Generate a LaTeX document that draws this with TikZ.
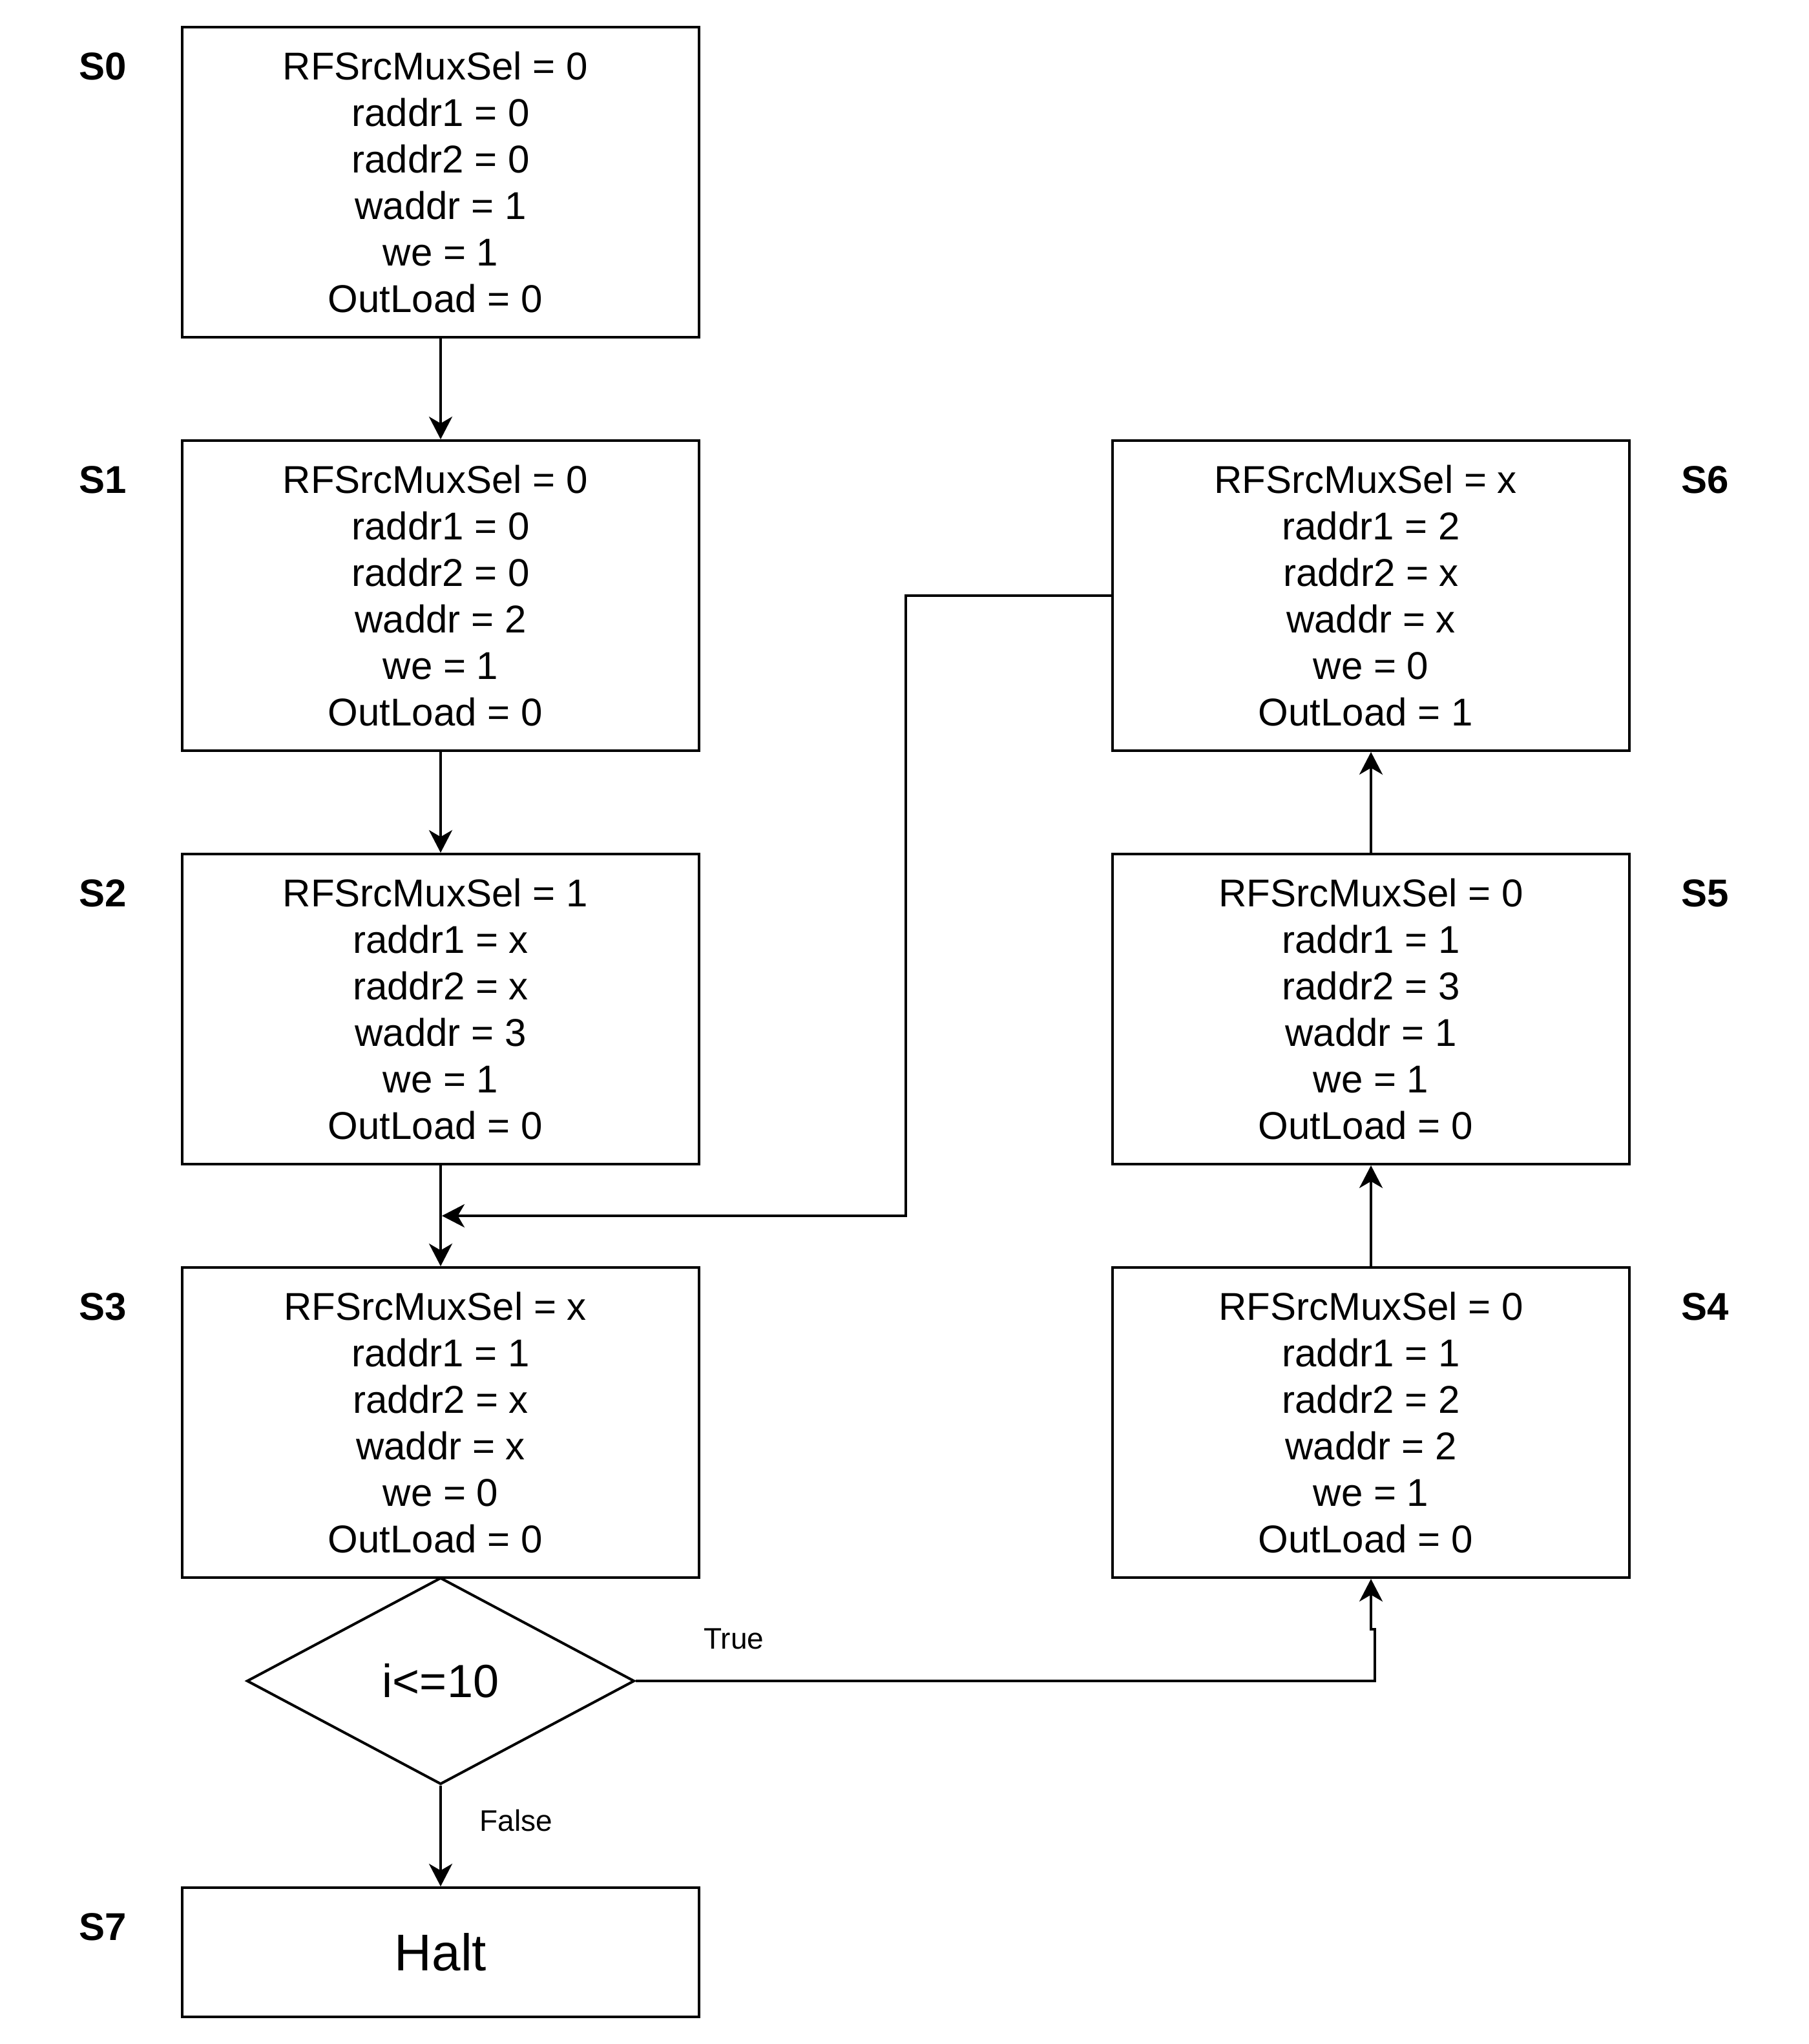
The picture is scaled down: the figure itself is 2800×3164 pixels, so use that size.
\documentclass[tikz,border=0pt]{standalone}
\usepackage{fontspec}
\setmainfont{Liberation Sans}
\usetikzlibrary{shapes.geometric,arrows.meta}
\newcommand\tsp{\hbox to 0.278em{}}
\begin{document}
\begin{tikzpicture}[x=0.25pt,y=-0.25pt,
  statebox/.style={draw,line width=1pt,minimum width=200pt,minimum height=120pt,inner sep=0pt,align=center,font=\fontsize{15}{18}\selectfont},
  haltbox/.style={draw,line width=1pt,minimum width=200pt,minimum height=50pt,inner sep=0pt,font=\fontsize{20}{24}\selectfont},
  decision/.style={draw,diamond,line width=1pt,minimum width=150pt,minimum height=80pt,inner sep=0pt,font=\fontsize{18}{21.6}\selectfont},
  slabel/.style={font=\fontsize{15}{18}\selectfont\bfseries,inner sep=0pt},
  elabel/.style={font=\fontsize{11.5}{14}\selectfont,inner sep=0pt},
  conn/.style={line width=1pt,-{Stealth[length=8.75pt,width=9pt,inset=2.6pt]}},
  plain/.style={line width=1pt}]
\useasboundingbox (0,0) rectangle (2800,3164);
\node[slabel] (l0) at (159,103) {S0};
\node[slabel] (l1) at (159,743) {S1};
\node[slabel] (l2) at (159,1383) {S2};
\node[slabel] (l3) at (159,2023) {S3};
\node[slabel] (l7) at (159,2983) {S7};
\node[slabel] (l6) at (2639,743) {S6};
\node[slabel] (l5) at (2639,1383) {S5};
\node[slabel] (l4) at (2639,2023) {S4};
\node[elabel] (lt) at (1136,2537) {True};
\node[elabel] (lf) at (799,2818) {False};
\begin{scope}[shift={(2,2)}]
\node[statebox] (s0) at (680,280) {RFSrcMuxSel = 0\tsp\\raddr1 = 0\\raddr2 = 0\\waddr = 1\\we = 1\\OutLoad = 0\tsp};
\node[statebox] (s1) at (680,920) {RFSrcMuxSel = 0\tsp\\raddr1 = 0\\raddr2 = 0\\waddr = 2\\we = 1\\OutLoad = 0\tsp};
\node[statebox] (s2) at (680,1560) {RFSrcMuxSel = 1\tsp\\raddr1 = x\\raddr2 = x\\waddr = 3\\we = 1\\OutLoad = 0\tsp};
\node[statebox] (s3) at (680,2200) {RFSrcMuxSel = x\tsp\\raddr1 = 1\\raddr2 = x\\waddr = x\\we = 0\\OutLoad = 0\tsp};
\node[statebox] (s6) at (2120,920) {RFSrcMuxSel = x\tsp\\raddr1 = 2\\raddr2 = x\\waddr = x\\we = 0\\OutLoad = 1\tsp};
\node[statebox] (s5) at (2120,1560) {RFSrcMuxSel = 0\\raddr1 = 1\\raddr2 = 3\\waddr = 1\\we = 1\\OutLoad = 0\tsp};
\node[statebox] (s4) at (2120,2200) {RFSrcMuxSel = 0\\raddr1 = 1\\raddr2 = 2\\waddr = 2\\we = 1\\OutLoad = 0\tsp};
\node[decision] (d) at (680,2600) {i<=10};
\node[haltbox] (s7) at (680,3020) {Halt};
\coordinate (m1) at (1400,920);
\coordinate (m2) at (1400,1880);
\coordinate (m3) at (682,1880);
\coordinate (t1) at (2126,2600);
\coordinate (t2) at (2126,2520);
\coordinate (t3) at (2120,2520);
\draw[conn] (s0.south) -- (s1.north);
\draw[conn] (s1.south) -- (s2.north);
\draw[conn] (s2.south) -- (s3.north);
\draw[conn] (s6.west) -- (m1) -- (m2) -- (m3);
\draw[conn] (s4.north) -- (s5.south);
\draw[conn] (s5.north) -- (s6.south);
\draw[conn] (d.south) -- (s7.north);
\draw[conn] (d.east) -- (t1) -- (t2) -- (t3) -- (s4.south);
\end{scope}
\end{tikzpicture}
\end{document}
